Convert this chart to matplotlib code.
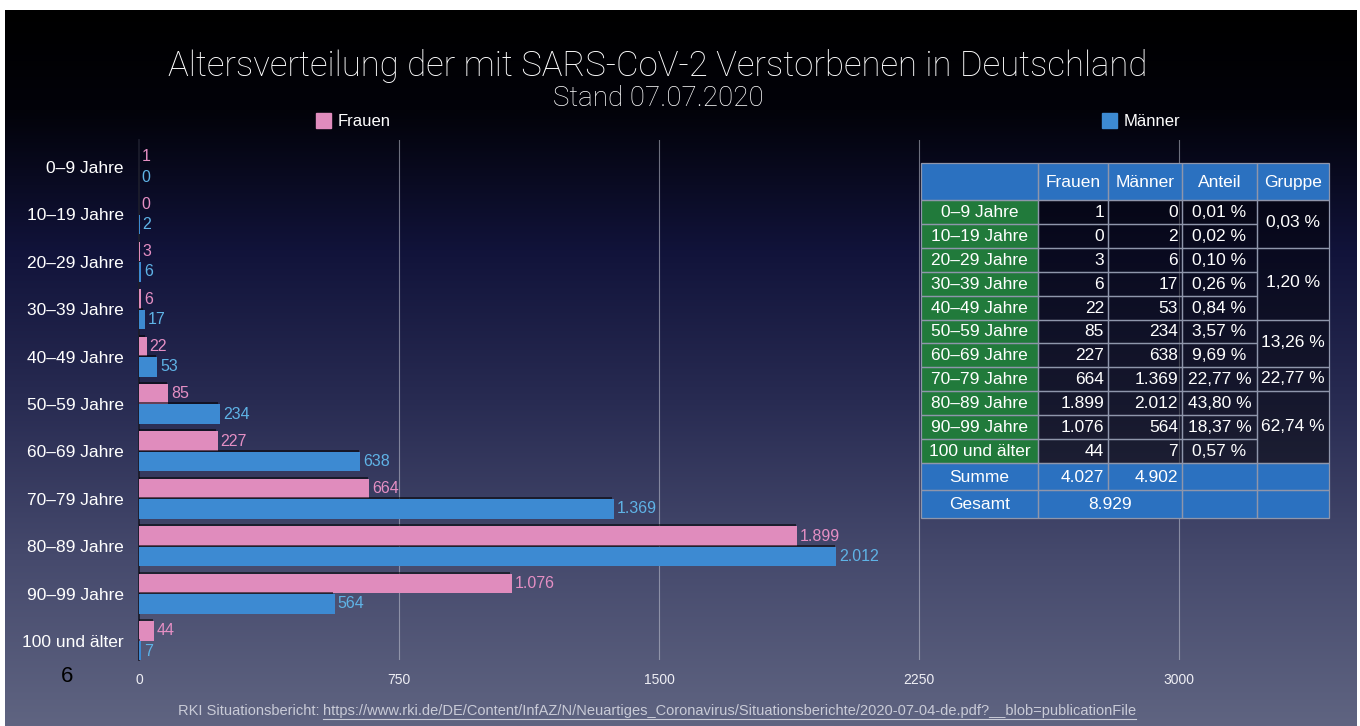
import matplotlib
matplotlib.use("Agg")
import matplotlib.pyplot as plt
import numpy as np
from matplotlib.patches import Rectangle
import matplotlib.patheffects as pe
from matplotlib.colors import to_rgb

# ---------------- data ----------------
age_groups = ["0–9 Jahre", "10–19 Jahre", "20–29 Jahre", "30–39 Jahre", "40–49 Jahre",
              "50–59 Jahre", "60–69 Jahre", "70–79 Jahre", "80–89 Jahre", "90–99 Jahre",
              "100 und älter"]
frauen = [1, 0, 3, 6, 22, 85, 227, 664, 1899, 1076, 44]
maenner = [0, 2, 6, 17, 53, 234, 638, 1369, 2012, 564, 7]
anteil = [0.01, 0.02, 0.10, 0.26, 0.84, 3.57, 9.69, 22.77, 43.80, 18.37, 0.57]
gruppe_spans = [(0, 2), (2, 5), (5, 7), (7, 8), (8, 11)]
gruppe_values = [0.03, 1.20, 13.26, 22.77, 62.74]
summe_frauen = 4027
summe_maenner = 4902
gesamt = 8929
x_ticks = [0, 750, 1500, 2250, 3000]
table_header = ["", "Frauen", "Männer", "Anteil", "Gruppe"]

title = "Altersverteilung der mit SARS-CoV-2 Verstorbenen in Deutschland"
subtitle = "Stand 07.07.2020"
source_prefix = "RKI Situationsbericht: "
source_url = "https://www.rki.de/DE/Content/InfAZ/N/Neuartiges_Coronavirus/Situationsberichte/2020-07-04-de.pdf?__blob=publicationFile"
page_no = "6"

PINK = "#e08cbd"
BLUE = "#3d8ad2"
PINK_TXT = "#e58fc4"
BLUE_TXT = "#5fb3e6"
GREEN = "#217a3b"
TBLUE = "#2b71c0"

SANS = ["Liberation Sans", "DejaVu Sans"]
NARROW = ["Liberation Sans Narrow", "Liberation Sans", "DejaVu Sans"]
LIGHT = ["Roboto", "Liberation Sans", "DejaVu Sans"]

def de(v):
    return f"{v:,}".replace(",", ".")

def pct(v):
    return f"{v:.2f}".replace(".", ",") + " %"

W, H = 1360, 726
fig = plt.figure(figsize=(W / 100, H / 100), dpi=100)
fig.patch.set_facecolor("white")

# ---------------- background gradient ----------------
bg = fig.add_axes([0, 0, 1, 1], zorder=0)
bg.set_xlim(0, W)
bg.set_ylim(H, 0)
bg.axis("off")
stops_y = [10, 110, 250, 400, 560, 726]
stops_c = ["#000000", "#020209", "#11133a", "#282b52", "#464a6d", "#5f6481"]
ys = np.linspace(10, 726, 400)
cols = np.array([to_rgb(c) for c in stops_c])
grad = np.stack([np.interp(ys, stops_y, cols[:, k]) for k in range(3)], axis=-1)
grad = grad[:, None, :]
bg.imshow(grad, extent=[5, 1357, 726, 10], aspect="auto", interpolation="bilinear")

# ---------------- main bar chart ----------------
px_left, px_right, px_top, px_bottom = 139, 1340, 140, 660
ax = fig.add_axes([px_left / W, 1 - px_bottom / H, (px_right - px_left) / W,
                   (px_bottom - px_top) / H], zorder=1)
ax.patch.set_alpha(0)
xmax = (px_right - px_left) / (260 / 750)
ax.set_xlim(0, xmax)
row_px = 47.4
ax.set_ylim((px_bottom - 167) / row_px, (px_top - 167) / row_px)

y = np.arange(len(age_groups))
bh = 0.41
off = 0.215
shadow = [pe.SimplePatchShadow(offset=(-1.2, 1.5), shadow_rgbFace="black", alpha=0.55), pe.Normal()]
bp = ax.barh(y - off, frauen, height=bh, color=PINK, zorder=3)
bm = ax.barh(y + off, maenner, height=bh, color=BLUE, zorder=3)
for b in list(bp) + list(bm):
    b.set_path_effects(shadow)

for yi, v in zip(y, frauen):
    ax.annotate(de(v), (v, yi - off), xytext=(2, 0), textcoords="offset points",
                va="center", ha="left", color=PINK_TXT, fontsize=11.5, family=NARROW, zorder=4)
for yi, v in zip(y, maenner):
    ax.annotate(de(v), (v, yi + off), xytext=(2, 0), textcoords="offset points",
                va="center", ha="left", color=BLUE_TXT, fontsize=11.5, family=NARROW, zorder=4)

ax.set_yticks(y)
ax.set_yticklabels(age_groups, family=SANS, fontsize=12.5, color="white")
ax.tick_params(axis="y", length=0, pad=11)
ax.set_xticks(x_ticks)
ax.set_xticklabels([str(t) for t in x_ticks], family=NARROW, fontsize=10, color="#eeeef4")
ax.tick_params(axis="x", length=0, pad=9)
for t in x_ticks[1:]:
    ax.axvline(t, color="#c2c5d2", lw=0.8, alpha=0.55, zorder=1)
for s in ["top", "right", "bottom"]:
    ax.spines[s].set_visible(False)
ax.spines["left"].set_color("#1c1d2c")
ax.spines["left"].set_linewidth(1.3)

# ---------------- overlay (texts, legend, table) ----------------
ov = fig.add_axes([0, 0, 1, 1], zorder=2)
ov.set_xlim(0, W)
ov.set_ylim(H, 0)
ov.axis("off")
ov.patch.set_alpha(0)

ov.text(658, 66, title, ha="center", va="center", color="white", fontsize=25,
        family=LIGHT, fontweight="light")
ov.text(658, 99, subtitle, ha="center", va="center", color="white", fontsize=20,
        family=LIGHT, fontweight="light")

# legend
ov.add_patch(Rectangle((316, 113), 15, 15, color=PINK))
ov.text(338, 121, "Frauen", ha="left", va="center", color="white", fontsize=12, family=SANS)
ov.add_patch(Rectangle((1102, 113), 15, 15, color=BLUE))
ov.text(1124, 121, "Männer", ha="left", va="center", color="white", fontsize=12, family=SANS)

# page number
ov.text(67, 676, page_no, ha="center", va="center", color="black", fontsize=16, family=SANS)

# footer
t1 = ov.text(0, 711, source_prefix, ha="left", va="center", color="#c9cbd7",
             fontsize=10.5, family=NARROW)
t2 = ov.text(0, 711, source_url, ha="left", va="center", color="#c9cbd7",
             fontsize=10.5, family=NARROW)
fig.canvas.draw()
r = fig.canvas.get_renderer()
w1 = t1.get_window_extent(r).width
w2 = t2.get_window_extent(r).width
start = 657 - (w1 + w2) / 2
t1.set_x(start)
t2.set_x(start + w1)
ov.plot([start + w1, start + w1 + w2], [719, 719], color="#c9cbd7", lw=0.8)

# table
cx = [921, 1038, 1108, 1182, 1257, 1329]
header_top, header_bot = 163, 200
row_h = (463 - 200) / len(age_groups)
summe_top, summe_bot = 463, 490
ges_bot = 518
EDGE = "#8f96ab"
LW = 0.9
tfs = 12.5

def cell(x0, y0, x1, y1, fc, alpha=1.0):
    ov.add_patch(Rectangle((x0, y0), x1 - x0, y1 - y0, facecolor=fc, alpha=alpha,
                           edgecolor="none", zorder=2))
    ov.add_patch(Rectangle((x0, y0), x1 - x0, y1 - y0, facecolor="none",
                           edgecolor=EDGE, lw=LW, zorder=3))

# header
for j in range(5):
    cell(cx[j], header_top, cx[j + 1], header_bot, TBLUE)
    if table_header[j]:
        ov.text((cx[j] + cx[j + 1]) / 2, (header_top + header_bot) / 2 + 1, table_header[j],
                ha="center", va="center", color="white", fontsize=tfs, family=SANS, zorder=4)

for i, lab in enumerate(age_groups):
    y0 = header_bot + i * row_h
    y1 = y0 + row_h
    ym = (y0 + y1) / 2 + 0.5
    cell(cx[0], y0, cx[1], y1, GREEN)
    for j in (1, 2, 3):
        cell(cx[j], y0, cx[j + 1], y1, "black", alpha=0.45)
    ov.text((cx[0] + cx[1]) / 2, ym, lab, ha="center", va="center", color="white",
            fontsize=tfs, family=SANS, zorder=4)
    ov.text(cx[2] - 4, ym, de(frauen[i]), ha="right", va="center", color="white",
            fontsize=tfs, family=SANS, zorder=4)
    ov.text(cx[3] - 4, ym, de(maenner[i]), ha="right", va="center", color="white",
            fontsize=tfs, family=SANS, zorder=4)
    ov.text((cx[3] + cx[4]) / 2, ym, pct(anteil[i]), ha="center", va="center", color="white",
            fontsize=tfs, family=SANS, zorder=4)

for (a, b), g in zip(gruppe_spans, gruppe_values):
    y0 = header_bot + a * row_h
    y1 = header_bot + b * row_h
    cell(cx[4], y0, cx[5], y1, "black", alpha=0.45)
    ov.text((cx[4] + cx[5]) / 2, (y0 + y1) / 2 - 1, pct(g), ha="center", va="center",
            color="white", fontsize=tfs, family=SANS, zorder=4)

# Summe row
for j in range(5):
    cell(cx[j], summe_top, cx[j + 1], summe_bot, TBLUE)
ym = (summe_top + summe_bot) / 2 + 0.5
ov.text((cx[0] + cx[1]) / 2, ym, "Summe", ha="center", va="center", color="white",
        fontsize=tfs, family=SANS, zorder=4)
ov.text(cx[2] - 4, ym, de(summe_frauen), ha="right", va="center", color="white",
        fontsize=tfs, family=SANS, zorder=4)
ov.text(cx[3] - 4, ym, de(summe_maenner), ha="right", va="center", color="white",
        fontsize=tfs, family=SANS, zorder=4)

# Gesamt row
cell(cx[0], summe_bot, cx[1], ges_bot, TBLUE)
cell(cx[1], summe_bot, cx[3], ges_bot, TBLUE)
cell(cx[3], summe_bot, cx[4], ges_bot, TBLUE)
cell(cx[4], summe_bot, cx[5], ges_bot, TBLUE)
ym = (summe_bot + ges_bot) / 2 + 0.5
ov.text((cx[0] + cx[1]) / 2, ym, "Gesamt", ha="center", va="center", color="white",
        fontsize=tfs, family=SANS, zorder=4)
ov.text((cx[1] + cx[3]) / 2, ym, de(gesamt), ha="center", va="center", color="white",
        fontsize=tfs, family=SANS, zorder=4)

fig.savefig("out.png", dpi=100)
